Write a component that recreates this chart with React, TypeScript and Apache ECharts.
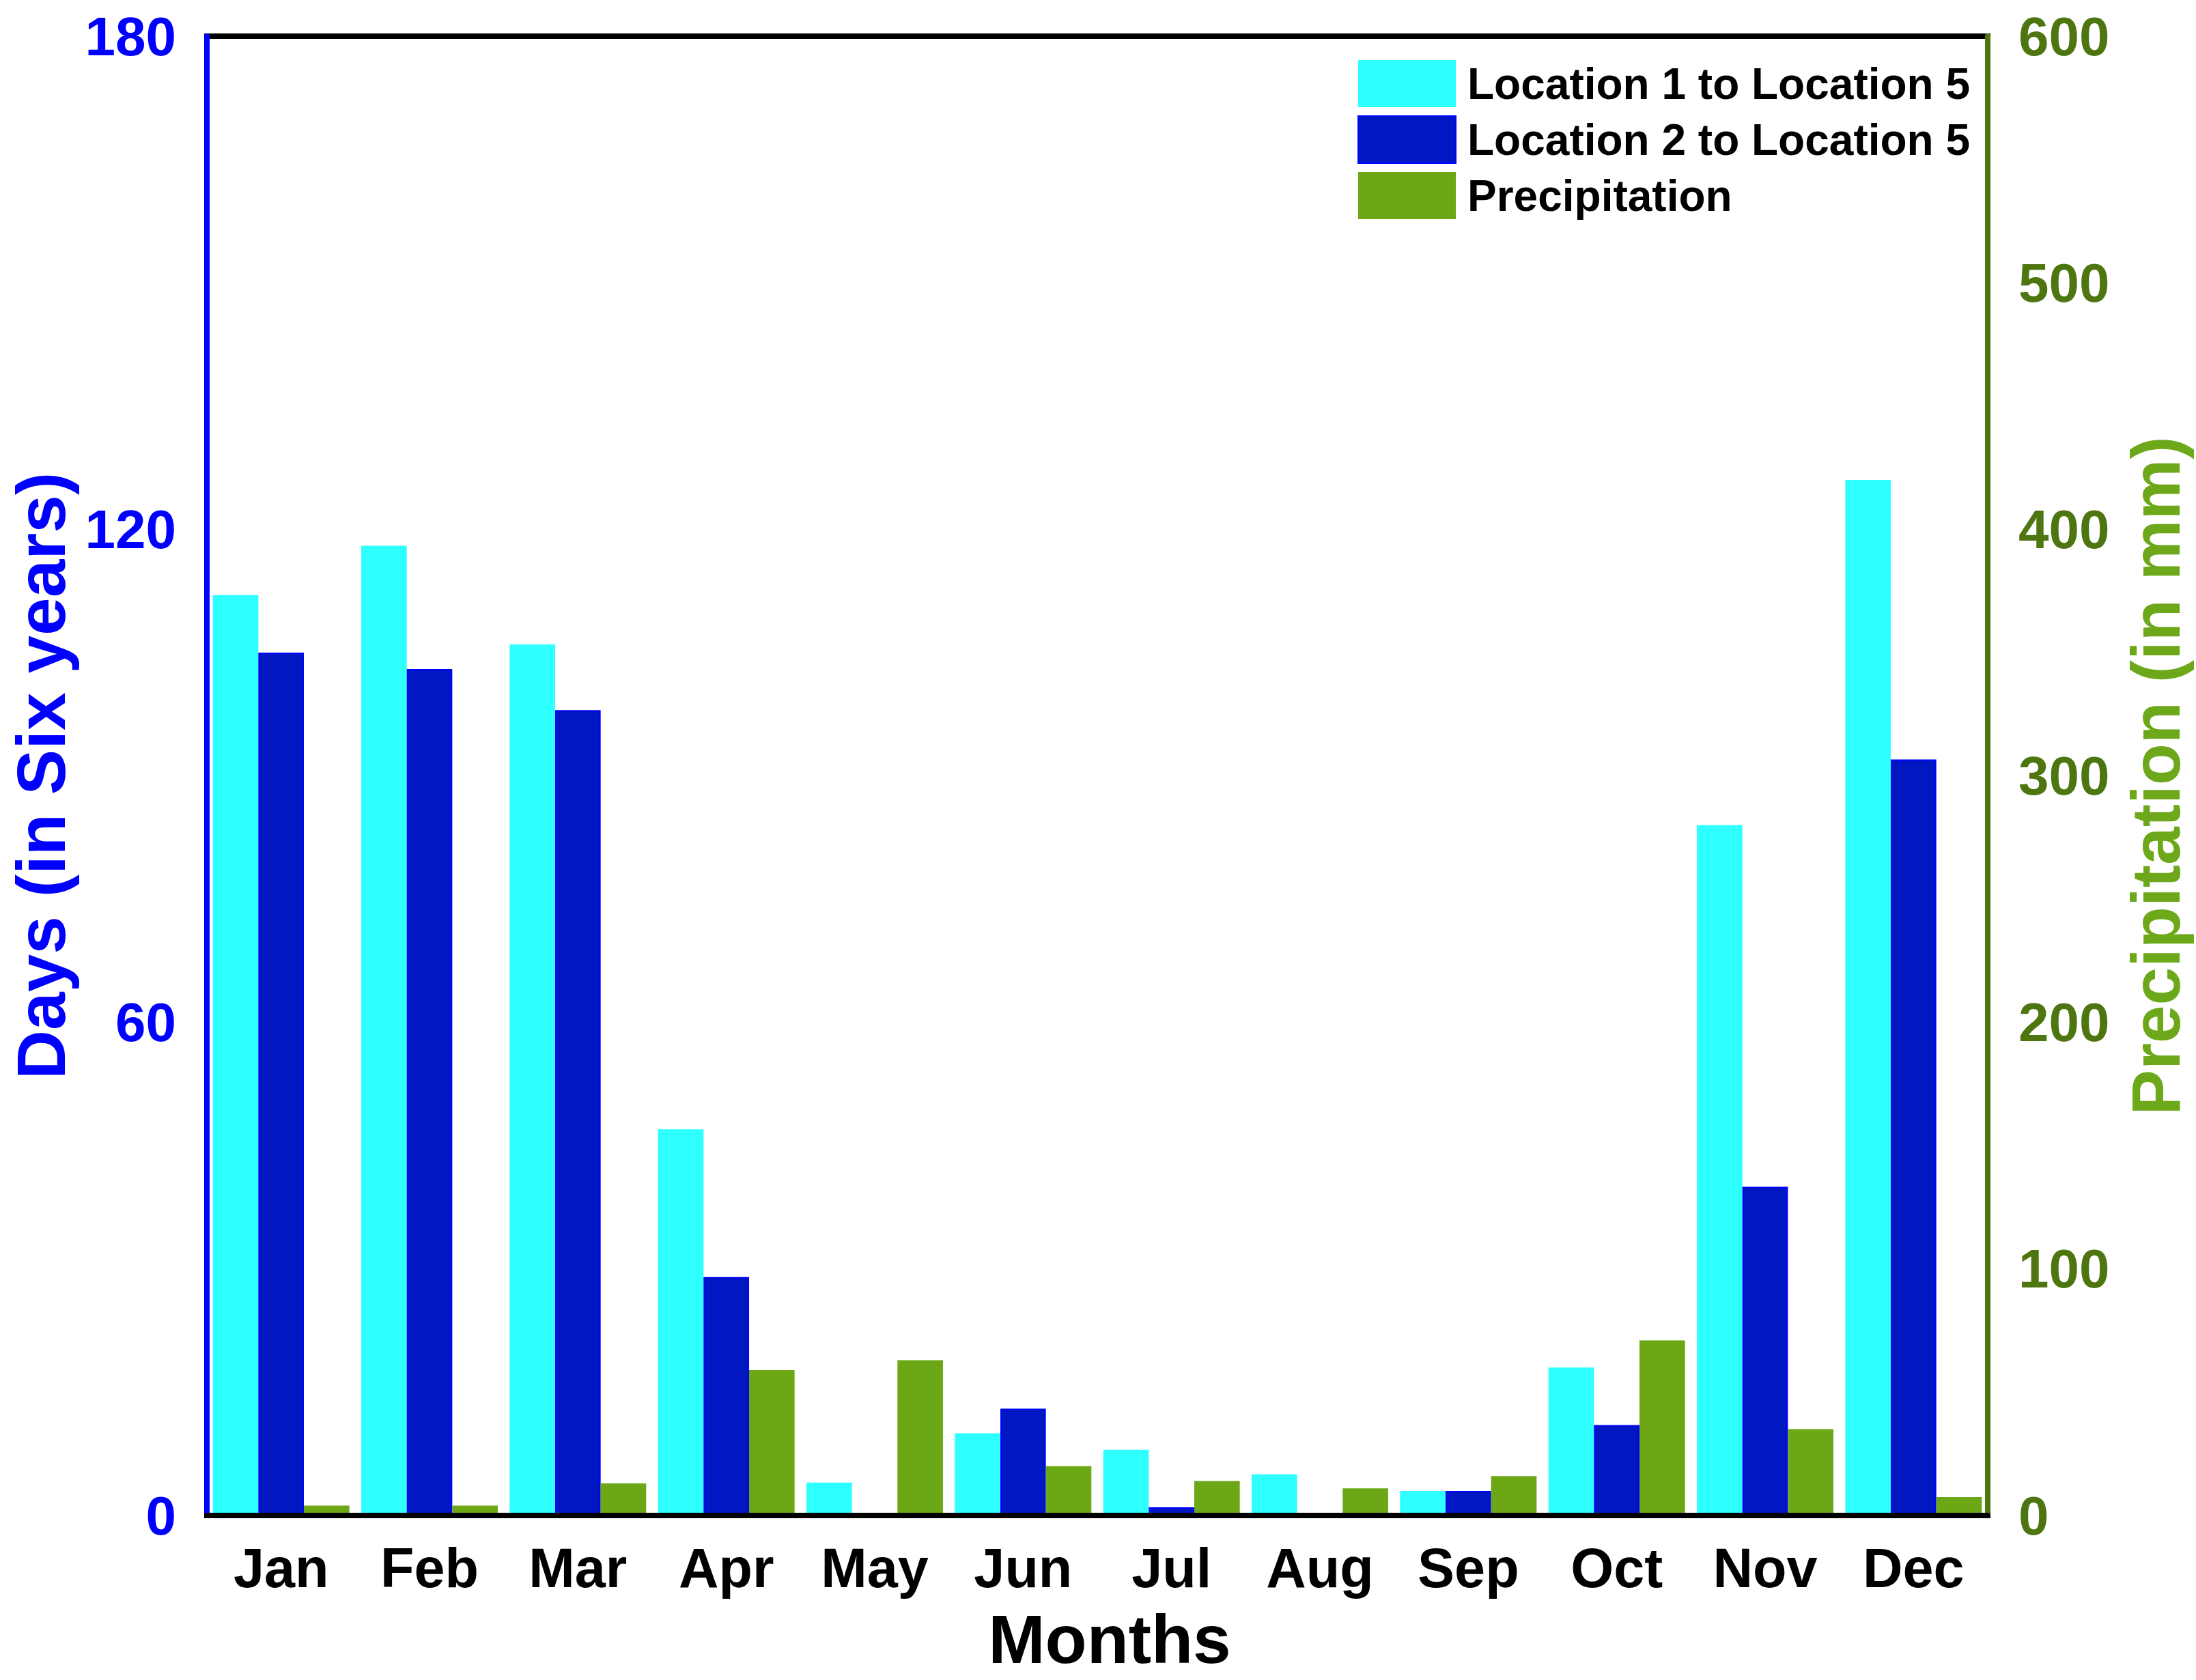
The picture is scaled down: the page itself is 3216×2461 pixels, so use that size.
import React, { useEffect, useRef } from "react";
import * as echarts from "echarts";

const months = ["Jan", "Feb", "Mar", "Apr", "May", "Jun", "Jul", "Aug", "Sep", "Oct", "Nov", "Dec"];
const loc1to5 = [112, 118, 106, 47, 4, 10, 8, 5, 3, 18, 84, 126];
const loc2to5 = [105, 103, 98, 29, 0, 13, 1, 0, 3, 11, 40, 92];
const precipitation = [4, 4, 13, 59, 63, 20, 14, 11, 16, 71, 35, 7.5];

const FONT = "'Liberation Sans', Arial, Helvetica, sans-serif";

export default function App() {
  const ref = useRef<HTMLDivElement>(null);
  useEffect(() => {
    document.body.style.margin = "0";
    const chart = echarts.init(ref.current!, null, { renderer: "svg" });
    chart.setOption({
      animation: false,
      backgroundColor: "#ffffff",
      grid: {
        left: 303,
        right: 305,
        top: 53,
        bottom: 241,
        show: true,
        borderColor: "#000000",
        borderWidth: 8,
        backgroundColor: "transparent",
      },
      legend: {
        orient: "vertical",
        left: 1988,
        top: 88,
        padding: 0,
        itemWidth: 143,
        itemHeight: 69,
        itemGap: 12,
        icon: "rect",
        textStyle: {
          fontFamily: FONT,
          fontWeight: "bold",
          fontSize: 64,
          color: "#000000",
          padding: [0, 0, 0, 12],
        },
        data: ["Location 1 to Location 5", "Location 2 to Location 5", "Precipitation"],
      },
      xAxis: {
        type: "category",
        data: months,
        z: 10,
        name: "Months",
        nameLocation: "middle",
        nameGap: 131,
        nameTextStyle: {
          fontFamily: FONT,
          fontWeight: "bold",
          fontSize: 100,
          color: "#000000",
          padding: [0, 0, 0, 36],
        },
        axisLine: { show: true, lineStyle: { color: "#000000", width: 8 } },
        axisTick: { show: false },
        axisLabel: { margin: 36, fontFamily: FONT, fontWeight: "bold", fontSize: 81, color: "#000000" },
        splitLine: { show: false },
      },
      yAxis: [
        {
          type: "value",
          min: 0,
          max: 180,
          interval: 60,
          position: "left",
          z: 10,
          name: "Days (in Six years)",
          nameLocation: "middle",
          nameRotate: 90,
          nameGap: 193,
          nameTextStyle: { fontFamily: FONT, fontWeight: "bold", fontSize: 100, color: "#0000FF" },
          axisLine: { show: true, lineStyle: { color: "#0000FF", width: 8 } },
          axisTick: { show: false },
          axisLabel: {
            margin: 45,
            fontFamily: FONT,
            fontWeight: "bold",
            fontSize: 80,
            color: "#0000FF",
            padding: [0, 0, 10, 0],
          },
          splitLine: { show: false },
        },
        {
          type: "value",
          min: 0,
          max: 600,
          interval: 100,
          position: "right",
          z: 10,
          name: "Precipitation (in mm)",
          nameLocation: "middle",
          nameRotate: 90,
          nameGap: 196,
          nameTextStyle: { fontFamily: FONT, fontWeight: "bold", fontSize: 100, color: "#6CA819" },
          axisLine: { show: true, lineStyle: { color: "#4D7510", width: 8 } },
          axisTick: { show: false },
          axisLabel: {
            margin: 45,
            fontFamily: FONT,
            fontWeight: "bold",
            fontSize: 80,
            color: "#4D7510",
            padding: [0, 0, 10, 0],
          },
          splitLine: { show: false },
        },
      ],
      series: [
        {
          name: "Location 1 to Location 5",
          type: "bar",
          yAxisIndex: 0,
          data: loc1to5,
          barGap: "0%",
          barCategoryGap: "8%",
          itemStyle: { color: "#2EFFFF" },
        },
        {
          name: "Location 2 to Location 5",
          type: "bar",
          yAxisIndex: 0,
          data: loc2to5,
          barGap: "0%",
          barCategoryGap: "8%",
          itemStyle: { color: "#0017C1", borderColor: "#0000FF", borderWidth: 2 },
        },
        {
          name: "Precipitation",
          type: "bar",
          yAxisIndex: 1,
          data: precipitation,
          barGap: "0%",
          barCategoryGap: "8%",
          itemStyle: { color: "#6CA816" },
        },
      ],
    });
    return () => chart.dispose();
  }, []);
  return (
    <div
      ref={ref}
      style={{ position: "absolute", left: 0, top: 0, width: 3216, height: 2461, background: "#ffffff" }}
    />
  );
}
